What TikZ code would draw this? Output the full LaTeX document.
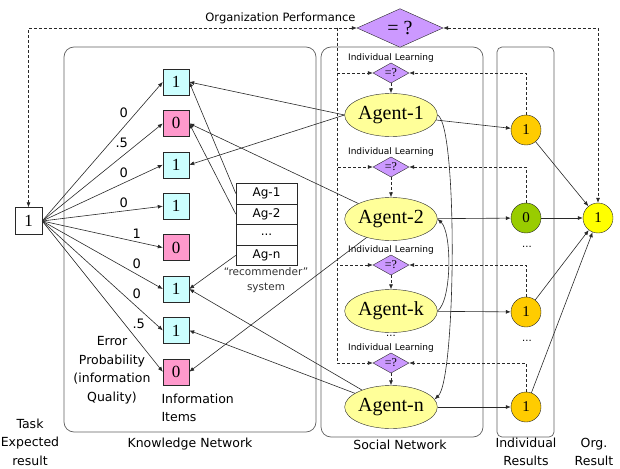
\documentclass[tikz,border=0pt]{standalone}
\usepackage{fontspec}
\setmainfont{Liberation Serif}
\setsansfont{DejaVu Sans}
\usetikzlibrary{shapes.geometric,arrows.meta}

\definecolor{hitcyan}{RGB}{204,255,255}
\definecolor{misspink}{RGB}{255,153,204}
\definecolor{agentyellow}{RGB}{255,255,153}
\definecolor{checkviolet}{RGB}{204,153,255}
\definecolor{gold}{RGB}{255,204,0}
\definecolor{leaf}{RGB}{153,204,0}
\definecolor{sun}{RGB}{255,255,0}
\definecolor{panelgray}{RGB}{96,96,96}
\definecolor{inkgray}{RGB}{40,40,40}

\newcommand{\fs}[1]{\fontsize{#1}{#1}\selectfont}

\begin{document}
\begin{tikzpicture}[x=1pt,y=-1pt,
  >={Latex[length=5pt,width=4pt]},
  link/.style={draw=inkgray,line width=0.6pt},
  flow/.style={draw=inkgray,line width=0.6pt,dash pattern=on 3pt off 2pt},
  infobox/.style={draw=inkgray,minimum size=26pt,inner sep=0pt,font=\fs{17}},
  item1/.style={infobox,fill=hitcyan},
  item0/.style={infobox,fill=misspink},
  agent/.style={ellipse,draw=inkgray,fill=agentyellow,minimum width=84pt,minimum height=43pt,inner sep=0pt,font=\fs{20}},
  check/.style={diamond,draw=inkgray,fill=checkviolet,minimum width=36pt,minimum height=20pt,inner sep=0pt,font=\fs{12}},
  result/.style={circle,draw=inkgray,minimum size=30pt,inner sep=0pt,font=\fs{15}},
  recrow/.style={draw=inkgray,minimum width=61pt,minimum height=20.6pt,inner sep=0pt,font=\sffamily\fs{12}},
  panel/.style={draw=panelgray,line width=0.7pt,rounded corners=10pt},
  tag/.style={font=\sffamily\fontsize{12.5}{18.5}\selectfont,align=center},
  learn/.style={font=\sffamily\fs{9}},
  prob/.style={font=\sffamily\fs{13},auto,pos=0.73,inner sep=2pt}]
\useasboundingbox (0,0) rectangle (620,468);

% the three networks
\draw[panel] (64,47) rectangle (316,432);
\draw[panel] (321,47) rectangle (483,437);
\draw[panel,rounded corners=5pt] (497,47) rectangle (554,437);

% task and information items
\node[draw=inkgray,minimum size=27pt,inner sep=0pt,font=\fs{17}] (task) at (28.5,221) {1};
\foreach \val/\err [count=\k] in {1/0,0/.5,1/0,1/0,0/1,1/0,1/0,0/.5} {
  \pgfmathsetmacro\yy{40.6+41.4*\k}
  \node[item\val] (i\k) at (176,\yy) {\val};
  \draw[link,->] (task.east) -- node[prob] {\err} (i\k.west);
}

% recommender
\node[recrow] (r1) at (266.5,193.5) {Ag-1};
\node[recrow] (r2) at (266.5,214.1) {Ag-2};
\node[recrow] (r3) at (266.5,234.7) {...};
\node[recrow] (rn) at (266.5,255.3) {Ag-n};
\node[font=\sffamily\fontsize{10.5}{15}\selectfont,align=center,text=black!80] (recsys) at (266,280) {``recommender''\\system};

% agents, checks, results
\foreach \lab/\yy [count=\k] in {1/115,2/219,k/311,n/407}
  \node[agent] (a\k) at (391,\yy) {Agent-\lab};
\foreach \yy [count=\k] in {73,167,265,363} {
  \node[check] (d\k) at (391,\yy) {=?};
  \node[learn] at (391,\yy-15) {Individual Learning};
}
\foreach \val/\col/\yy [count=\k] in {1/gold/130,0/leaf/218,1/gold/312,1/gold/407}
  \node[result,fill=\col] (o\k) at (526,\yy) {\val};
\node[result,fill=sun] (org) at (598,218) {1};
\node[check,minimum width=86pt,minimum height=31pt,font=\fs{20}] (perf) at (400,28) {= ?};
\node[anchor=east,font=\sffamily\fs{11.5}] (perftxt) at (359,18) {Organization Performance};

\node[font=\sffamily\fs{10}] at (391,336) {...};
\node[font=\sffamily\fs{10}] at (527,247) {...};
\node[font=\sffamily\fs{10}] at (527,341) {...};

% who reads which item
\draw[link,->] (a1.west) -- (i1.east);
\draw[link,->] (a1.west) -- (i3.east);
\draw[link,->] (a2) -- (i2.east);
\draw[link,->] (a2) -- (i8.east);
\draw[link,->] (a4) -- (i6.east);
\draw[link,->] (a4) -- (i7.east);
\draw[link,->] (r1.west) -- (i1.east);
\draw[link,->] (r2.west) -- (i2.east);
\draw[link,->] (rn.west) -- (i6.east);

% agent to agent
\draw[link,->] (a1.east) .. controls (458,125) and (456,380) .. (a4.10);
\draw[link,->] (a3.east) .. controls (452,300) and (452,232) .. (a2.east);

% results
\foreach \k in {1,...,4} {
  \draw[link,->] (a\k) -- (o\k);
  \draw[link,->] (o\k) -- (org);
}

% feedback loops
\coordinate (tap) at (337,28);
\draw[flow,<->] (task.north) |- (perf.west);
\draw[flow,<->] (perf.east) -| (org.north);
\foreach \k in {1,...,4} {
  \draw[flow,->] (tap) |- (d\k.west);
  \draw[flow,->] (o\k.north) |- (d\k.east);
  \draw[flow,->] (d\k.south) -- (a\k.north);
}

% captions
\node[tag] at (190,444) {Knowledge Network};
\node[tag] at (400,445) {Social Network};
\node[tag] at (526,452) {Individual\\Results};
\node[tag] at (594,452) {Org.\\Result};
\node[tag] at (30,442) {Task\\Expected\\result};
\node[tag] at (112,370) {Error\\Probability\\(information\\Quality)};
\node[tag,align=left,anchor=west] at (158,408) {Information\\Items};
\end{tikzpicture}
\end{document}
